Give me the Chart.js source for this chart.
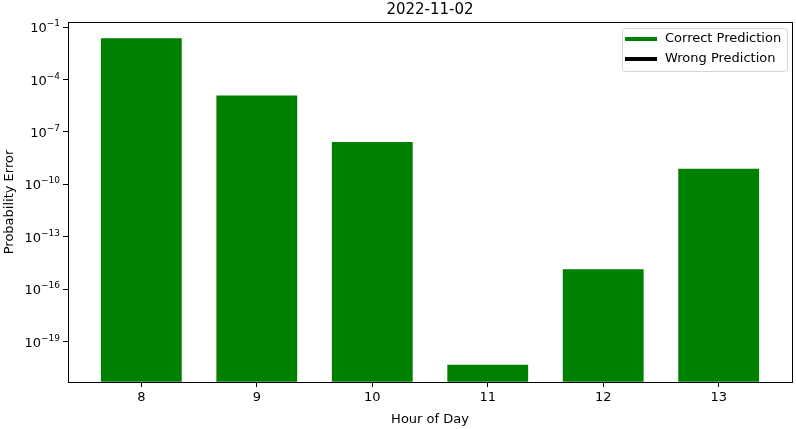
<!DOCTYPE html>
<html><head><meta charset="utf-8">
<script src="https://cdn.jsdelivr.net/npm/chart.js@4"></script>
<style>html,body{margin:0;padding:0;background:#fff}#wrap{width:796px;height:429px}</style>
</head><body><div id="wrap"><canvas id="c" width="796" height="429"></canvas></div>
<script>
const hours = [8, 9, 10, 11, 12, 13];
const correctErrors = [2.3e-2, 1.2e-5, 2.7e-8, 4.9e-21, 1.4e-15, 8.0e-10];
const yTickExponents = [-1, -4, -7, -10, -13, -16, -19];
const yMin = 5.1e-22, yMax = 0.195;
const xMin = 7.365, xMax = 13.635;
const chartTitle = '2022-11-02';
const legendItems = [{label:'Correct Prediction', color:'#008000'}, {label:'Wrong Prediction', color:'#000000'}];

const FONT = 'DejaVu Sans';

const framePlugin = {
  id: 'frame',
  afterDraw(chart) {
    const {ctx, chartArea: a} = chart;
    ctx.save();
    ctx.strokeStyle = '#000'; ctx.lineWidth = 1;
    ctx.strokeRect(Math.round(a.left) + 0.5, Math.round(a.top) + 0.5, Math.round(a.right - a.left), Math.round(a.bottom - a.top));
    // title centred over the axes
    ctx.fillStyle = '#000';
    ctx.font = '15px ' + FONT;
    ctx.textAlign = 'center';
    ctx.textBaseline = 'middle';
    ctx.fillText(chartTitle, (a.left + a.right) / 2, a.top - 12);
    ctx.textAlign = 'left';
    // y tick labels with superscript exponents
    const ys = chart.scales.y;
    ctx.textBaseline = 'alphabetic';
    yTickExponents.forEach(e => {
      const py = ys.getPixelForValue(Math.pow(10, e));
      const expStr = '\u2212' + Math.abs(e);
      ctx.font = '9px ' + FONT;
      const ew = ctx.measureText(expStr).width;
      ctx.font = '13px ' + FONT;
      const bw = ctx.measureText('10').width;
      const right = a.left - 8;
      ctx.fillText('10', right - ew - bw, py + 5);
      ctx.font = '9px ' + FONT;
      ctx.fillText(expStr, right - ew, py - 1);
    });
    // legend
    const w = 165, h = 43, x0 = a.right - w - 5, y0 = a.top + 6;
    ctx.fillStyle = 'rgba(255,255,255,0.8)';
    ctx.strokeStyle = '#d6d6d6';
    ctx.beginPath();
    if (ctx.roundRect) ctx.roundRect(x0 + 0.5, y0 + 0.5, w, h, 3); else ctx.rect(x0 + 0.5, y0 + 0.5, w, h);
    ctx.fill(); ctx.stroke();
    ctx.font = '13px ' + FONT;
    ctx.textBaseline = 'middle';
    legendItems.forEach((it, i) => {
      const cy = y0 + 11 + i * 20;
      ctx.fillStyle = it.color;
      ctx.fillRect(x0 + 3, cy - 2, 32, 4);
      ctx.fillStyle = '#000';
      ctx.fillText(it.label, x0 + 43, cy);
    });
    ctx.restore();
  }
};

new Chart(document.getElementById('c'), {
  type: 'bar',
  data: {
    datasets: [{
      label: legendItems[0].label,
      data: hours.map((h, i) => ({x: h, y: correctErrors[i]})),
      backgroundColor: '#008000',
      borderWidth: 0,
      base: yMin,
      barPercentage: 0.7,
      categoryPercentage: 1.0
    }]
  },
  options: {
    responsive: false,
    animation: false,
    layout: {padding: {left: 0, right: 4, top: 22, bottom: 0}},
    plugins: {
      legend: {display: false},
      tooltip: {enabled: false},
      title: {display: false}
    },
    scales: {
      x: {
        type: 'linear', min: xMin, max: xMax, offset: false,
        afterBuildTicks: s => { s.ticks = hours.map(v => ({value: v})); },
        afterFit: s => { s.height = 47; },
        ticks: {color: '#000', font: {family: FONT, size: 13}, padding: 3, autoSkip: false, maxRotation: 0},
        grid: {display: true, offset: false, drawOnChartArea: false, drawTicks: true, tickLength: 5, color: '#000'},
        border: {display: true, color: '#000'},
        title: {display: true, text: 'Hour of Day', color: '#000', font: {family: FONT, size: 13}, padding: {top: 0, bottom: 2}}
      },
      y: {
        type: 'logarithmic', min: yMin, max: yMax,
        afterBuildTicks: s => { s.ticks = yTickExponents.map(e => ({value: Math.pow(10, e)})); },
        afterFit: s => { s.width = 68; },
        ticks: {color: '#000', font: {family: FONT, size: 13}, padding: 4, autoSkip: false, callback: () => ''},
        grid: {display: true, offset: false, drawOnChartArea: false, drawTicks: true, tickLength: 5, color: '#000'},
        border: {display: true, color: '#000'},
        title: {display: true, text: 'Probability Error', color: '#000', font: {family: FONT, size: 13}, padding: {top: 2, bottom: 0}}
      }
    }
  },
  plugins: [framePlugin]
});
</script></body></html>
